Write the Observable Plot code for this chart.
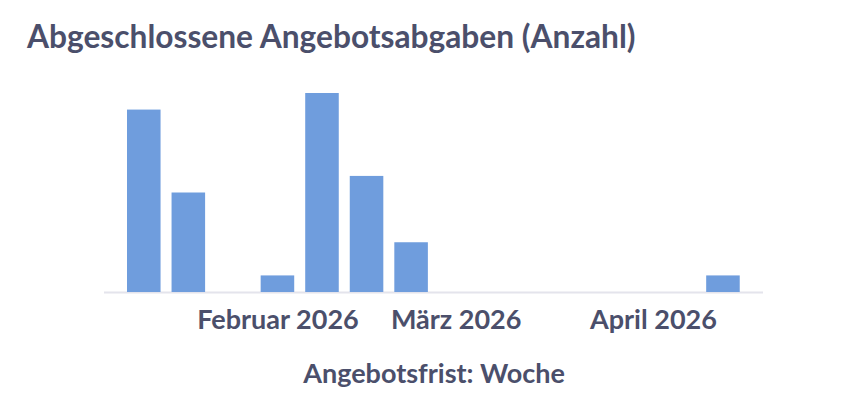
<!DOCTYPE html>
<html>
<head>
<meta charset="utf-8">
<script src="https://cdn.jsdelivr.net/npm/d3@7"></script>
<script src="https://cdn.jsdelivr.net/npm/@observablehq/plot@0.6"></script>
<style>
  html, body { margin: 0; padding: 0; background: #ffffff; }
  #wrap { width: 856px; height: 409px; position: relative; overflow: hidden; font-family: Lato, "Open Sans", sans-serif; }
  #title { box-sizing: border-box; height: 65px; padding: 17px 0 0 27px; margin: 0;
           font: 700 31.7px/1.2 Lato, sans-serif; color: #4b4f6b; white-space: nowrap; }
</style>
</head>
<body>
<div id="wrap">
  <div id="title">Abgeschlossene Angebotsabgaben (Anzahl)</div>
  <div id="chart"></div>
</div>
<script>
// Week (Sunday) of the bid deadline
const weeks = ["2026-01-11","2026-01-18","2026-01-25","2026-02-01","2026-02-08","2026-02-15","2026-02-22",
               "2026-03-01","2026-03-08","2026-03-15","2026-03-22","2026-03-29","2026-04-05","2026-04-12"];
const counts = [11, 6, 0, 1, 12, 7, 3, 0, 0, 0, 0, 0, 0, 1];
const tickDates = ["2026-02-01","2026-03-01","2026-04-01"];
const tickLabels = ["Februar 2026","März 2026","April 2026"];
const xDomain = ["2026-01-04T18:00Z","2026-04-18T07:00Z"];
const xLabel = "Angebotsfrist: Woche";

const data = weeks.map((w, i) => {
  const d = new Date(w + "T00:00Z");
  return {week: d, x1: d3.utcHour.offset(d, -84), x2: d3.utcHour.offset(d, 84), count: counts[i]};
}).filter(d => d.count > 0);

const ticks = tickDates.map(t => new Date(t + "T00:00Z"));
const labelOf = new Map(ticks.map((t, i) => [+t, tickLabels[i]]));

const textColor = "#4b4f6b";

const chart = Plot.plot({
  width: 856,
  height: 344,
  marginLeft: 104,
  marginRight: 93,
  marginTop: 28,
  marginBottom: 117,
  style: {fontFamily: "Lato, sans-serif", color: textColor, background: "transparent"},
  x: {type: "utc", domain: xDomain.map(s => new Date(s)), axis: null},
  y: {domain: [0, 12], axis: null},
  marks: [
    Plot.ruleY([0], {stroke: "#e4e4ec", strokeWidth: 2}),
    Plot.rectY(data, {x1: "x1", x2: "x2", y: "count", fill: "#6f9ddd", insetLeft: 5.5, insetRight: 5.5}),
    Plot.axisX({ticks, tickFormat: d => labelOf.get(+d), tickSize: 0, tickPadding: 17,
                fontSize: 27, fontWeight: 700, fill: textColor, label: null}),
    Plot.text([xLabel], {frameAnchor: "bottom", lineAnchor: "bottom", dy: 90,
                         fontSize: 27, fontWeight: 700, fill: textColor})
  ]
});
document.getElementById("chart").appendChild(chart);
</script>
</body>
</html>
